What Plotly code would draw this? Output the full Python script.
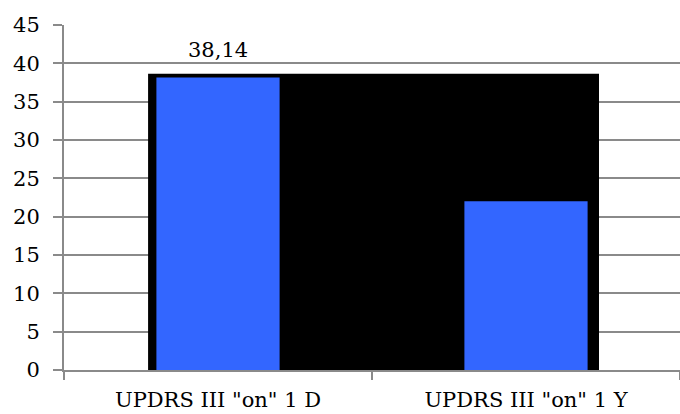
import plotly.graph_objects as go

# Data
categories = ['UPDRS III "on" 1 D', 'UPDRS III "on" 1 Y']
scores = [38.14, 22.0]
labelled_value = 38.14
y_ticks = [0, 5, 10, 15, 20, 25, 30, 35, 40, 45]

FONT = "DejaVu Serif"
GRID = "#8a8a8a"

fig = go.Figure()

fig.add_trace(go.Bar(
    x=categories,
    y=scores,
    width=0.4,
    marker=dict(color="#3366ff", line=dict(width=0)),
    showlegend=False,
))

# black backdrop panel behind the bars
fig.add_shape(
    type="rect", xref="x", yref="y",
    x0=-0.227, x1=1.237, y0=0, y1=38.65,
    fillcolor="black", line=dict(width=0), layer="between",
)

# value label on the first bar
fig.add_annotation(
    x=categories[0], y=labelled_value,
    text=f"{labelled_value:.2f}".replace(".", ","),
    showarrow=False, yanchor="bottom", yshift=14,
    font=dict(family=FONT, size=21, color="black"),
)

fig.update_layout(
    width=680, height=414,
    margin=dict(l=64, r=0, t=25, b=44),
    paper_bgcolor="white", plot_bgcolor="white",
    font=dict(family=FONT, size=21, color="black"),
    bargap=0.6,
)

fig.update_xaxes(
    range=[-0.5, 1.5],
    showline=True, linecolor=GRID, linewidth=2,
    ticks="outside", tickson="boundaries", ticklen=8, tickcolor=GRID, tickwidth=2,
    ticklabelstandoff=10,
    showgrid=False, zeroline=False,
    tickfont=dict(family=FONT, size=21, color="black"),
)

fig.update_yaxes(
    range=[0, 45], tickvals=y_ticks,
    showline=True, linecolor=GRID, linewidth=2,
    ticks="outside", ticklen=9, tickcolor=GRID, tickwidth=2,
    ticklabelstandoff=9,
    showgrid=True, gridcolor=GRID, gridwidth=2,
    zeroline=False,
    tickfont=dict(family=FONT, size=21, color="black"),
)

fig.write_html("out.html")
